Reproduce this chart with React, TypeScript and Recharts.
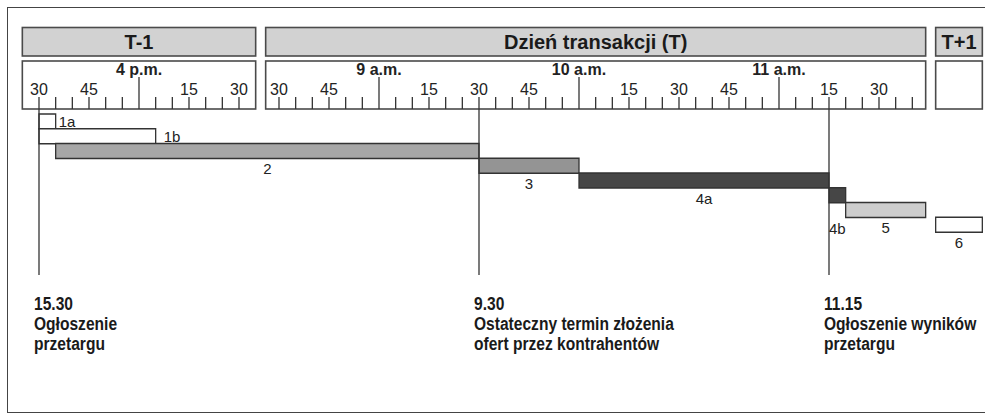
import { BarChart, Bar, XAxis, YAxis, ReferenceLine, ReferenceArea, LabelList, Cell } from 'recharts';

// each day column gets its own stretch of one minute axis (T-1 15:30 = 0)
const DAYS: Record<string, { origin: string; offset: number }> = {
  'T-1': { origin: '15:30', offset: 0 },
  T: { origin: '8:30', offset: 72 },
  'T+1': { origin: '8:30', offset: 269 }, // no scale is drawn for T+1
};

const SECTION_NAMES = ['T-1', 'Dzień transakcji (T)', 'T+1'];
const SECTION_DAYS = ['T-1', 'T', 'T+1'];
const SECTION_FROM = ['15:25', '8:26', '8:30'];
const SECTION_TO = ['16:35', '11:44', '8:44'];

// 5-minute graduation of the rulers
const RULER_DAYS = ['T-1', 'T'];
const RULER_FROM = ['15:30', '8:30'];
const RULER_TO = ['16:30', '11:40'];
const HOUR_LABELS = [
  { day: 'T-1', hour: 16, label: '4 p.m.' },
  { day: 'T', hour: 9, label: '9 a.m.' },
  { day: 'T', hour: 10, label: '10 a.m.' },
  { day: 'T', hour: 11, label: '11 a.m.' },
];

const TASKS = ['1a', '1b', '2', '3', '4a', '4b', '5', '6'];
const TASK_START_DAY = ['T-1', 'T-1', 'T-1', 'T', 'T', 'T', 'T', 'T+1'];
const TASK_START = ['15:30', '15:30', '15:35', '9:30', '10:00', '11:15', '11:20', '8:30'];
const TASK_END_DAY = ['T-1', 'T-1', 'T', 'T', 'T', 'T', 'T', 'T+1'];
const TASK_END = ['15:35', '16:05', '9:30', '10:00', '11:15', '11:20', '11:44', '8:44'];

const MARKERS = [
  { day: 'T-1', time: '15:30', title: '15.30', lines: ['Ogłoszenie', 'przetargu'] },
  { day: 'T', time: '9:30', title: '9.30', lines: ['Ostateczny termin złożenia', 'ofert przez kontrahentów'] },
  { day: 'T', time: '11:15', title: '11.15', lines: ['Ogłoszenie wyników', 'przetargu'] },
];

const mins = (t: string) => {
  const [h, m] = t.split(':').map(Number);
  return h * 60 + m;
};
const toV = (day: string, t: string) => DAYS[day].offset + mins(t) - mins(DAYS[day].origin);

const FILLS: Record<string, string> = {
  '1a': '#ffffff', '1b': '#ffffff', '2': '#a7a7a7', '3': '#949494',
  '4a': '#464646', '4b': '#464646', '5': '#cdcdcd', '6': '#ffffff',
};
const LABEL_PLACE: Record<string, { pos: string; d: number }> = {
  '1a': { pos: 'right', d: 3 },
  '1b': { pos: 'right', d: 8 },
  '4b': { pos: 'below', d: 26 },
};

const taskData = TASKS.map((id, i) => ({
  id,
  span: [toV(TASK_START_DAY[i], TASK_START[i]), toV(TASK_END_DAY[i], TASK_END[i])],
}));

const tickInfo = new Map<number, { minute: number; hourLabel?: string }>();
RULER_DAYS.forEach((day, i) => {
  for (let t = mins(RULER_FROM[i]); t <= mins(RULER_TO[i]); t += 5) {
    const hour = Math.floor(t / 60);
    const minute = t % 60;
    const hl = HOUR_LABELS.find((h) => h.day === day && h.hour === hour && minute === 0);
    tickInfo.set(DAYS[day].offset + t - mins(DAYS[day].origin), { minute, hourLabel: hl?.label });
  }
});
const rulerTicks = Array.from(tickInfo.keys());

const INK = '#333';

function RulerTick(props: any) {
  const { x, y, payload } = props;
  const info = tickInfo.get(payload.value);
  if (!info) return null;
  const isHour = info.minute === 0;
  return (
    <g>
      <line x1={x} x2={x} y1={y} y2={y - (isHour ? 32 : 12)} stroke={INK} strokeWidth={1.3} />
      {!isHour && info.minute % 15 === 0 && (
        <text x={x} y={y - 14} textAnchor="middle" fontSize={16} fill="#222">
          {info.minute}
        </text>
      )}
      {info.hourLabel && (
        <text x={x} y={y - 34} textAnchor="middle" fontSize={16} fontWeight="bold" fill="#222">
          {info.hourLabel}
        </text>
      )}
    </g>
  );
}

const renderTaskLabel = (p: any) => {
  const { x, y, width, height, value } = p;
  const place = LABEL_PLACE[value] ?? { pos: 'below', d: 10 };
  if (place.pos === 'right') {
    return (
      <text x={x + width + place.d} y={y + height / 2} dominantBaseline="central" fontSize={15} fill="#222">
        {value}
      </text>
    );
  }
  return (
    <text x={x + width / 2} y={y + height + place.d} textAnchor="middle" dominantBaseline="central" fontSize={15} fill="#222">
      {value}
    </text>
  );
};

export default function App() {
  return (
    <div
      style={{
        position: 'absolute', left: 0, top: 0, width: 985, height: 416, overflow: 'hidden',
        background: '#fff', fontFamily: '"Liberation Sans", Arial, sans-serif',
      }}
    >
      <div
        style={{
          position: 'absolute', left: 7, top: 7, width: 1000, height: 406,
          border: '1.6px solid #444', boxSizing: 'border-box',
        }}
      />
      <BarChart
        width={985}
        height={416}
        layout="vertical"
        data={taskData}
        margin={{ top: 0, right: 0, bottom: 141, left: 0 }}
        barCategoryGap={0}
        style={{ position: 'absolute', left: 0, top: 0 }}
      >
        {SECTION_NAMES.map((name, i) => (
          <ReferenceArea
            key={name}
            x1={toV(SECTION_DAYS[i], SECTION_FROM[i])}
            x2={toV(SECTION_DAYS[i], SECTION_TO[i])}
            ifOverflow="visible"
            shape={(s: any) => (
              <g>
                <rect x={s.x} y={27.5} width={s.width} height={28.5} fill="#d2d2d2" stroke="#4a4a4a" strokeWidth={1.6} />
                <text x={s.x + s.width / 2} y={42} textAnchor="middle" dominantBaseline="central" fontSize={20} fontWeight="bold" fill="#1a1a1a">
                  {name}
                </text>
                <rect x={s.x} y={61} width={s.width} height={48} fill="none" stroke="#4a4a4a" strokeWidth={1.6} />
              </g>
            )}
          />
        ))}
        <XAxis
          type="number"
          orientation="top"
          domain={[-11.7, 283.8]}
          allowDataOverflow
          ticks={rulerTicks}
          interval={0}
          height={109}
          tickSize={0}
          tickMargin={0}
          axisLine={false}
          tick={<RulerTick />}
        />
        <YAxis type="category" dataKey="id" hide width={0} padding={{ top: 5, bottom: 43 }} />
        {MARKERS.map((m) => (
          <ReferenceLine
            key={m.title}
            x={toV(m.day, m.time)}
            stroke={INK}
            strokeWidth={1.3}
            label={{
              content: (lp: any) => {
                const vx = lp.viewBox?.x ?? 0;
                return (
                  <text
                    transform={`translate(${vx - 5} 0) scale(0.82 1)`}
                    fontSize={19}
                    fontWeight="bold"
                    fill="#1a1a1a"
                  >
                    <tspan x={0} y={310}>{m.title}</tspan>
                    {m.lines.map((l, j) => (
                      <tspan key={j} x={0} y={330 + j * 20}>{l}</tspan>
                    ))}
                  </text>
                );
              },
            }}
          />
        ))}
        <Bar dataKey="span" isAnimationActive={false} stroke={INK} strokeWidth={1.3}>
          {taskData.map((d) => (
            <Cell key={d.id} fill={FILLS[d.id]} />
          ))}
          <LabelList dataKey="id" content={renderTaskLabel} />
        </Bar>
      </BarChart>
    </div>
  );
}
